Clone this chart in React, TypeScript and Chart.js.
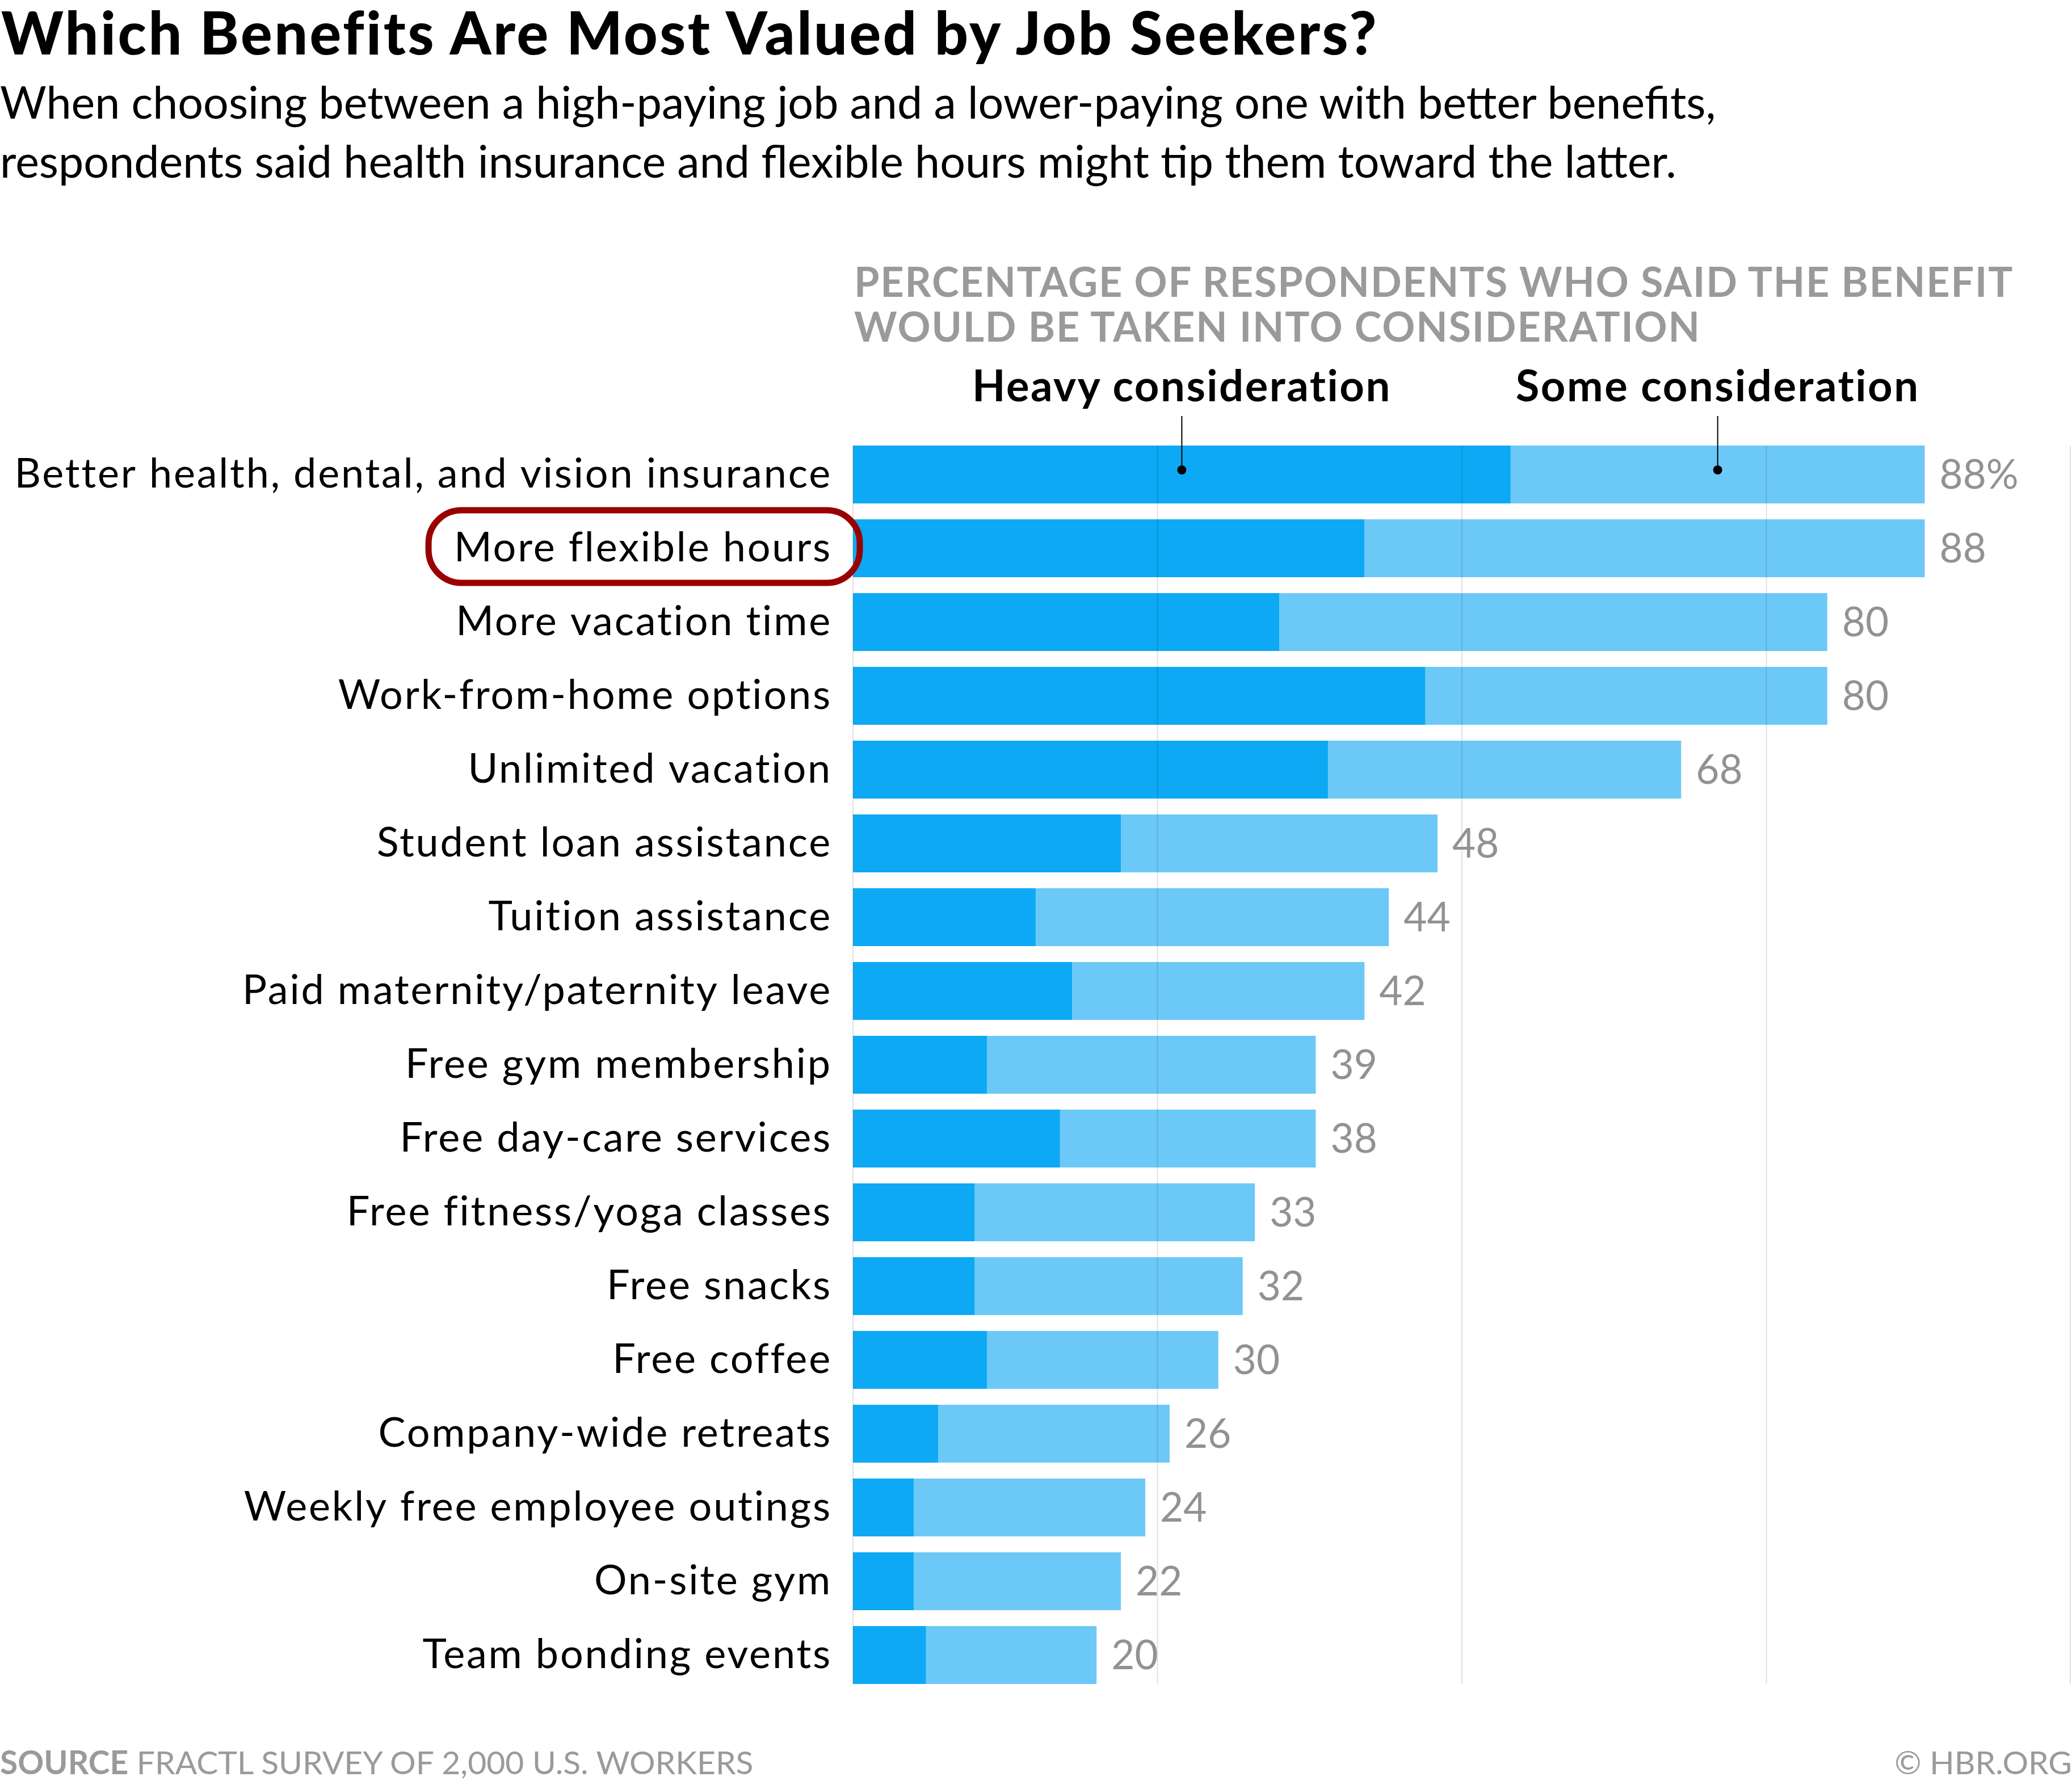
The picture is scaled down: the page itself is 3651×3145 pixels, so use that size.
import React, { useEffect, useRef } from 'react';
import { Chart, registerables } from 'chart.js';

Chart.register(...registerables);

const categories = [
  'Better health, dental, and vision insurance',
  'More flexible hours',
  'More vacation time',
  'Work-from-home options',
  'Unlimited vacation',
  'Student loan assistance',
  'Tuition assistance',
  'Paid maternity/paternity leave',
  'Free gym membership',
  'Free day-care services',
  'Free fitness/yoga classes',
  'Free snacks',
  'Free coffee',
  'Company-wide retreats',
  'Weekly free employee outings',
  'On-site gym',
  'Team bonding events',
];

const heavyConsideration = [54, 42, 35, 47, 39, 22, 15, 18, 11, 17, 10, 10, 11, 7, 5, 5, 6];
const someConsideration = [34, 46, 45, 33, 29, 26, 29, 24, 27, 21, 23, 22, 19, 19, 19, 17, 14];
const totalLabels = ['88%', '88', '80', '80', '68', '48', '44', '42', '39', '38', '33', '32', '30', '26', '24', '22', '20'];
const gridValues = [0, 25, 50, 75, 100];
const seriesNames = ['Heavy consideration', 'Some consideration'];

const HEAVY_COLOR = '#0EA9F4';
const SOME_COLOR = '#6CC9F7';
const FONT = 'Lato, "Open Sans", sans-serif';
const LABEL_SIZE = 72;
const LABEL_SPACING = 2.8;
const VALUE_SIZE = 71;
const PLOT_LEFT = 1503;
const PAD_RIGHT = 2;
const CANVAS_W = 3651;
const CANVAS_H = 3145;
const HIGHLIGHT_INDEX = 1;

const overlayPlugin = {
  id: 'overlay',
  beforeDraw(chart: any) {
    chart.ctx.letterSpacing = `${LABEL_SPACING}px`;
  },
  afterDatasetsDraw(chart: any) {
    const { ctx, scales, chartArea } = chart;
    const x = scales.x;
    const m0 = chart.getDatasetMeta(0);
    const first = m0.data[0];
    const last = m0.data[m0.data.length - 1];
    const top = first.y - first.height / 2;
    const bottom = last.y + last.height / 2;
    ctx.save();
    ctx.letterSpacing = '0px';
    // grid lines, drawn over bars
    ctx.strokeStyle = 'rgba(0,0,0,0.12)';
    ctx.lineWidth = 2;
    gridValues.forEach((v) => {
      const px = Math.min(x.getPixelForValue(v), chartArea.right - 1);
      ctx.beginPath();
      ctx.moveTo(px, top);
      ctx.lineTo(px, bottom);
      ctx.stroke();
    });
    // value labels
    ctx.fillStyle = '#929292';
    ctx.font = `${VALUE_SIZE}px ${FONT}`;
    ctx.textAlign = 'left';
    ctx.textBaseline = 'alphabetic';
    m0.data.forEach((bar: any, i: number) => {
      const total = heavyConsideration[i] + someConsideration[i];
      const px = x.getPixelForValue(total) + 26;
      ctx.fillText(totalLabels[i], px, bar.y + VALUE_SIZE * 0.358);
    });
    // leader lines for legend
    const cy = first.y - 8;
    const xs = [
      x.getPixelForValue(heavyConsideration[0] / 2),
      x.getPixelForValue(heavyConsideration[0] + someConsideration[0] / 2),
    ];
    ctx.strokeStyle = '#000';
    ctx.fillStyle = '#000';
    ctx.lineWidth = 2;
    xs.forEach((px) => {
      ctx.beginPath();
      ctx.moveTo(px, top - 52);
      ctx.lineTo(px, cy);
      ctx.stroke();
      ctx.beginPath();
      ctx.arc(px, cy, 8, 0, Math.PI * 2);
      ctx.fill();
    });
    // highlight oval around a category label
    ctx.letterSpacing = `${LABEL_SPACING}px`;
    ctx.font = `${LABEL_SIZE}px ${FONT}`;
    const w = ctx.measureText(categories[HIGHLIGHT_INDEX]).width;
    const textRight = chartArea.left - 37;
    const textLeft = textRight - w;
    const hy = m0.data[HIGHLIGHT_INDEX].y - 3;
    ctx.strokeStyle = '#990000';
    ctx.lineWidth = 11;
    ctx.beginPath();
    (ctx as any).roundRect(textLeft - 45, hy - 64, w + 94, 128, 58);
    ctx.stroke();
    ctx.restore();
  },
  afterDraw(chart: any) {
    chart.ctx.letterSpacing = '0px';
  },
};

export default function App() {
  const ref = useRef<HTMLCanvasElement>(null);

  useEffect(() => {
    document.body.style.margin = '0';
    const chart = new Chart(ref.current as HTMLCanvasElement, {
      type: 'bar',
      data: {
        labels: categories,
        datasets: [
          {
            label: seriesNames[0],
            data: heavyConsideration,
            backgroundColor: HEAVY_COLOR,
            borderWidth: 0,
            categoryPercentage: 1,
            barPercentage: 0.785,
          },
          {
            label: seriesNames[1],
            data: someConsideration,
            backgroundColor: SOME_COLOR,
            borderWidth: 0,
            categoryPercentage: 1,
            barPercentage: 0.785,
          },
        ],
      },
      options: {
        indexAxis: 'y',
        responsive: false,
        animation: false,
        layout: { padding: { top: 771, bottom: CANVAS_H - 2981, left: 0, right: PAD_RIGHT } },
        plugins: {
          legend: { display: false },
          tooltip: { enabled: false },
          title: { display: false },
        },
        scales: {
          x: { stacked: true, min: 0, max: 100, display: false },
          y: {
            stacked: true,
            grid: { display: false, drawTicks: false },
            border: { display: false },
            ticks: {
              autoSkip: false,
              color: '#000',
              padding: 37,
              font: { family: FONT, size: LABEL_SIZE },
            },
            afterFit: (scale: any) => {
              scale.width = PLOT_LEFT;
            },
          },
        },
      } as any,
      plugins: [overlayPlugin],
    });
    return () => chart.destroy();
  }, []);

  const plotW = CANVAS_W - PAD_RIGHT - PLOT_LEFT;
  const xPix = (v: number) => PLOT_LEFT + (v / 100) * plotW;
  const heavyMid = xPix(heavyConsideration[0] / 2);
  const someMid = xPix(heavyConsideration[0] + someConsideration[0] / 2);

  const abs = (left: number, baseline: number, size: number): React.CSSProperties => ({
    position: 'absolute',
    left,
    top: baseline - 0.987 * size,
    fontSize: size,
    lineHeight: 1.2,
    whiteSpace: 'nowrap',
  });

  return (
    <div
      style={{
        position: 'absolute',
        left: 0,
        top: 0,
        width: CANVAS_W,
        height: CANVAS_H,
        background: '#fff',
        overflow: 'hidden',
        fontFamily: FONT,
        color: '#000',
      }}
    >
      <canvas
        ref={ref}
        width={CANVAS_W}
        height={CANVAS_H}
        style={{ position: 'absolute', left: 0, top: 0 }}
      />
      <div style={{ ...abs(2, 97, 104), fontWeight: 900, letterSpacing: 3.5 }}>
        Which Benefits Are Most Valued by Job Seekers?
      </div>
      <div style={{ ...abs(0, 210, 79) }}>
        When choosing between a high-paying job and a lower-paying one with better benefits,
      </div>
      <div style={{ ...abs(0, 314, 79) }}>
        respondents said health insurance and flexible hours might tip them toward the latter.
      </div>
      <div style={{ ...abs(1505, 523, 72), fontWeight: 700, color: '#9a9a9a', letterSpacing: 1.8 }}>
        PERCENTAGE OF RESPONDENTS WHO SAID THE BENEFIT
      </div>
      <div style={{ ...abs(1505, 602, 72), fontWeight: 700, color: '#9a9a9a', letterSpacing: 1.8 }}>
        WOULD BE TAKEN INTO CONSIDERATION
      </div>
      <div style={{ ...abs(heavyMid, 707, 76), fontWeight: 700, letterSpacing: 2.5, transform: 'translateX(-50%)' }}>
        {seriesNames[0]}
      </div>
      <div style={{ ...abs(someMid, 707, 76), fontWeight: 700, letterSpacing: 2.5, transform: 'translateX(-50%)' }}>
        {seriesNames[1]}
      </div>
      <div style={{ ...abs(0, 3126, 57), color: '#9a9a9a' }}>
        <span style={{ fontWeight: 700 }}>SOURCE</span> FRACTL SURVEY OF 2,000 U.S. WORKERS
      </div>
      <div style={{ ...abs(0, 3126, 57), left: undefined, right: 0, color: '#9a9a9a' }}>
        © HBR.ORG
      </div>
    </div>
  );
}
